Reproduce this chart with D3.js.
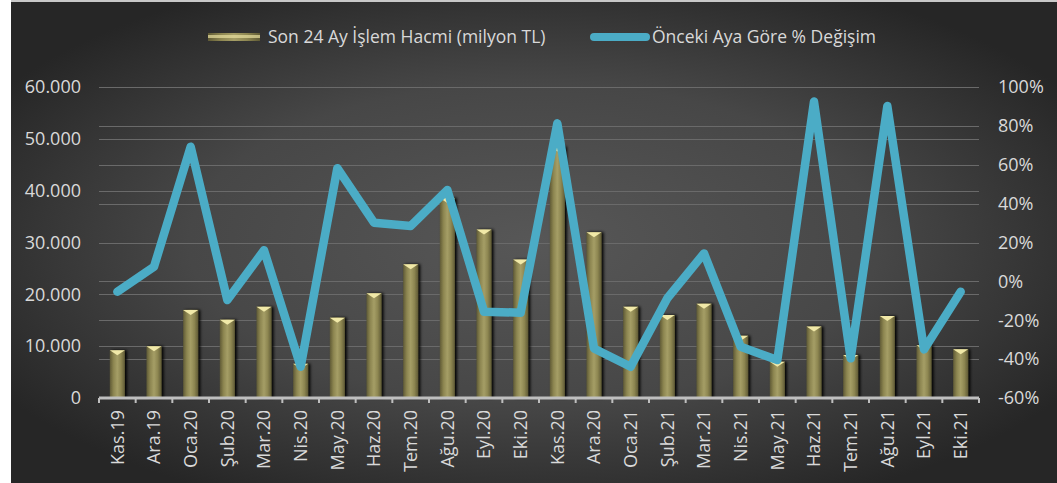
<!DOCTYPE html>
<html>
<head>
<meta charset="utf-8">
<style>
body { margin:0; background:#fff; }
svg { display:block; }
text { font-family: "Open Sans", Lato, sans-serif; }
</style>
</head>
<body>
<div id="chart"></div>
<script src="https://d3js.org/d3.v7.min.js"></script>
<script>

// chart data
var months = ["Kas.19","Ara.19","Oca.20","Şub.20","Mar.20","Nis.20","May.20","Haz.20","Tem.20","Ağu.20","Eyl.20","Eki.20",
              "Kas.20","Ara.20","Oca.21","Şub.21","Mar.21","Nis.21","May.21","Haz.21","Tem.21","Ağu.21","Eyl.21","Eki.21"];
var volume = [9200,10000,17000,15100,17600,6600,15500,20200,25800,38600,32500,26700,
              48500,32000,17600,16000,18200,12000,7000,13800,8300,15800,10200,9400];
var change = [-5.3,7.5,69.3,-9.6,16,-43.9,58.2,30.2,28.5,47,-15.6,-16.1,
              81.3,-34.5,-43.9,-8.7,14.4,-33.6,-40.5,92.5,-39.6,90.2,-35,-5.3];
var leftTicks = [0,10000,20000,30000,40000,50000,60000];
var rightTicks = [-60,-40,-20,0,20,40,60,80,100];
var seriesNames = ["Son 24 Ay İşlem Hacmi (milyon TL)", "Önceki Aya Göre % Değişim"];

var W = 1057, H = 483;
var plotL = 99, plotR = 979, plotT = 87, plotB = 398;
var lineColor = "#4bacc6";
var textColor = "#d9d9d9";

var svg = d3.select("#chart").append("svg")
    .attr("width", W)
    .attr("height", H);

var defs = svg.append("defs");

// background gradient
var bg = defs.append("radialGradient").attr("id","bg")
    .attr("cx","50%").attr("cy","50%").attr("r","60%");
bg.append("stop").attr("offset","0%").attr("stop-color","#575757");
bg.append("stop").attr("offset","55%").attr("stop-color","#474747");
bg.append("stop").attr("offset","100%").attr("stop-color","#262626");

// bar gradient (cylinder look)
var bg2 = defs.append("linearGradient").attr("id","barG")
    .attr("x1","0%").attr("x2","100%").attr("y1","0%").attr("y2","0%");
bg2.append("stop").attr("offset","0%").attr("stop-color","#5f5a35");
bg2.append("stop").attr("offset","25%").attr("stop-color","#8d8651");
bg2.append("stop").attr("offset","50%").attr("stop-color","#a59e66");
bg2.append("stop").attr("offset","75%").attr("stop-color","#8d8651");
bg2.append("stop").attr("offset","100%").attr("stop-color","#5f5a35");

var shadow = defs.append("filter").attr("id","shadow")
    .attr("x","-50%").attr("y","-10%").attr("width","200%").attr("height","120%");
shadow.append("feGaussianBlur").attr("in","SourceAlpha").attr("stdDeviation",1.5);
shadow.append("feOffset").attr("dx",1.5).attr("dy",0).attr("result","b");
var fm = shadow.append("feMerge");
fm.append("feMergeNode").attr("in","b");
fm.append("feMergeNode").attr("in","SourceGraphic");

// background
svg.append("rect").attr("x",11).attr("y",2).attr("width",W-11).attr("height",H-2)
   .attr("fill","url(#bg)");
svg.append("rect").attr("x",11).attr("y",0).attr("width",W-11).attr("height",2)
   .attr("fill","#c8c8c8");

// scales
var x = d3.scaleBand().domain(months).range([plotL, plotR]).paddingInner(0.59).paddingOuter(0.295);
var xb = d3.scaleBand().domain(months).range([plotL, plotR]);
var yL = d3.scaleLinear().domain([0,60000]).range([plotB, plotT]);
var yR = d3.scaleLinear().domain([-60,100]).range([plotB, plotT]);

var fmtL = function(d){ return d3.format(",")(d).replace(/,/g,"."); };

// gridlines for both axes
svg.append("g").selectAll("line").data(leftTicks.slice(1)).join("line")
   .attr("x1",plotL).attr("x2",plotR)
   .attr("y1",d=>Math.round(yL(d))+0.5).attr("y2",d=>Math.round(yL(d))+0.5)
   .attr("stroke","#6a6a6a").attr("stroke-width",1);
svg.append("g").selectAll("line").data(rightTicks.slice(1)).join("line")
   .attr("x1",plotL).attr("x2",plotR)
   .attr("y1",d=>Math.round(yR(d))+0.5).attr("y2",d=>Math.round(yR(d))+0.5)
   .attr("stroke","#6a6a6a").attr("stroke-width",1);

// bars
var bars = svg.append("g").selectAll("g").data(months).join("g");
bars.append("rect")
   .attr("x",d=>x(d)).attr("width",x.bandwidth())
   .attr("y",(d,i)=>yL(volume[i])).attr("height",(d,i)=>plotB - yL(volume[i]))
   .attr("fill","url(#barG)")
   .attr("filter","url(#shadow)");
// top bevel highlight
bars.append("path")
   .attr("d",(d,i)=>{
      var x0 = x(d), w = x.bandwidth(), y0 = yL(volume[i]);
      return "M"+x0+","+y0+" L"+(x0+w)+","+y0+" L"+(x0+w/2)+","+(y0+5)+" Z";
   })
   .attr("fill","#f1e9a8");

// x axis line + ticks
svg.append("line").attr("x1",plotL).attr("x2",plotR).attr("y1",plotB).attr("y2",plotB)
   .attr("stroke","#bfbfbf").attr("stroke-width",3);
var tickPos = months.map(d=>xb(d)).concat([plotR]);
svg.append("g").selectAll("line").data(tickPos).join("line")
   .attr("x1",d=>d).attr("x2",d=>d).attr("y1",plotB).attr("y2",plotB+5)
   .attr("stroke","#bfbfbf").attr("stroke-width",2);

// line series
var line = d3.line()
   .x((d,i)=>xb(months[i]) + xb.bandwidth()/2)
   .y(d=>yR(d));
svg.append("path").datum(change)
   .attr("d",line)
   .attr("fill","none")
   .attr("stroke",lineColor)
   .attr("stroke-width",8.5)
   .attr("stroke-linejoin","round")
   .attr("stroke-linecap","round");

// left axis labels
svg.append("g").selectAll("text").data(leftTicks).join("text")
   .attr("x",81).attr("y",d=>yL(d)).attr("dy","0.35em")
   .attr("text-anchor","end")
   .style("font-size","18px").style("fill",textColor)
   .text(fmtL);

// right axis labels
svg.append("g").selectAll("text").data(rightTicks).join("text")
   .attr("x",998).attr("y",d=>yR(d)).attr("dy","0.35em")
   .attr("text-anchor","start")
   .style("font-size","18px").style("fill",textColor)
   .text(d=>d+"%");

// category labels
svg.append("g").selectAll("text").data(months).join("text")
   .attr("transform",d=>"translate("+(xb(d)+xb.bandwidth()/2)+","+(plotB+12)+") rotate(-90)")
   .attr("dy","0.35em")
   .attr("text-anchor","end")
   .style("font-size","18px").style("fill",textColor)
   .text(d=>d);

// legend
var lg = svg.append("g");
lg.append("rect").attr("x",208).attr("y",33).attr("width",52).attr("height",8)
   .attr("fill","url(#barG)");
lg.append("rect").attr("x",208).attr("y",35).attr("width",52).attr("height",3)
   .attr("fill","#e8e0a0").attr("opacity",0.7);
lg.append("text").attr("x",268).attr("y",37).attr("dy","0.35em")
   .style("font-size","17.5px").style("fill",textColor)
   .text(seriesNames[0]);
lg.append("line").attr("x1",594).attr("x2",646).attr("y1",37).attr("y2",37)
   .attr("stroke",lineColor).attr("stroke-width",8).attr("stroke-linecap","round");
lg.append("text").attr("x",652).attr("y",37).attr("dy","0.35em")
   .style("font-size","17.5px").style("fill",textColor)
   .text(seriesNames[1]);

</script>
</body>
</html>
